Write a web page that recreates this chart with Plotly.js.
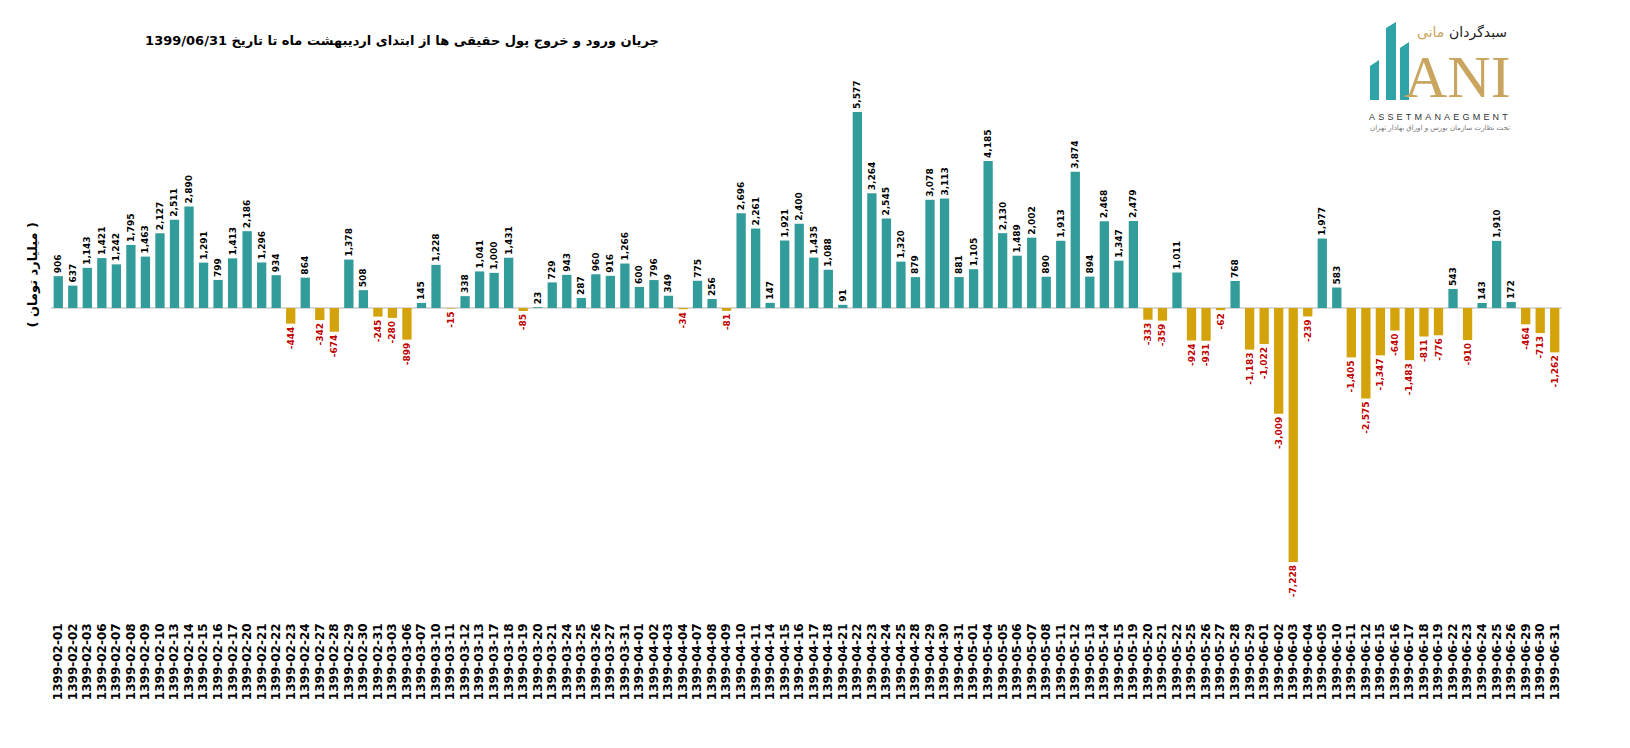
<!DOCTYPE html>
<html>
<head>
<meta charset="utf-8">
<script src="https://cdn.plot.ly/plotly-3.0.1.min.js"></script>
<style>
  body { margin: 0; background: #fff; }
  #graph { width: 1630px; height: 748px; }
</style>
</head>
<body>
<div id="graph"></div>
<script>
// net flow of individual investors' money, billion toman
let dates = [
    "1399-02-01", "1399-02-02", "1399-02-03", "1399-02-06", "1399-02-07", "1399-02-08", "1399-02-09", "1399-02-10",
    "1399-02-13", "1399-02-14", "1399-02-15", "1399-02-16", "1399-02-17", "1399-02-20", "1399-02-21", "1399-02-22",
    "1399-02-23", "1399-02-24", "1399-02-27", "1399-02-28", "1399-02-29", "1399-02-30", "1399-02-31", "1399-03-03",
    "1399-03-06", "1399-03-07", "1399-03-10", "1399-03-11", "1399-03-12", "1399-03-13", "1399-03-17", "1399-03-18",
    "1399-03-19", "1399-03-20", "1399-03-21", "1399-03-24", "1399-03-25", "1399-03-26", "1399-03-27", "1399-03-31",
    "1399-04-01", "1399-04-02", "1399-04-03", "1399-04-04", "1399-04-07", "1399-04-08", "1399-04-09", "1399-04-10",
    "1399-04-11", "1399-04-14", "1399-04-15", "1399-04-16", "1399-04-17", "1399-04-18", "1399-04-21", "1399-04-22",
    "1399-04-23", "1399-04-24", "1399-04-25", "1399-04-28", "1399-04-29", "1399-04-30", "1399-04-31", "1399-05-01",
    "1399-05-04", "1399-05-05", "1399-05-06", "1399-05-07", "1399-05-08", "1399-05-11", "1399-05-12", "1399-05-13",
    "1399-05-14", "1399-05-15", "1399-05-19", "1399-05-20", "1399-05-21", "1399-05-22", "1399-05-25", "1399-05-26",
    "1399-05-27", "1399-05-28", "1399-05-29", "1399-06-01", "1399-06-02", "1399-06-03", "1399-06-04", "1399-06-05",
    "1399-06-10", "1399-06-11", "1399-06-12", "1399-06-15", "1399-06-16", "1399-06-17", "1399-06-18", "1399-06-19",
    "1399-06-22", "1399-06-23", "1399-06-24", "1399-06-25", "1399-06-26", "1399-06-29", "1399-06-30", "1399-06-31"
];

let flows = [
    906, 637, 1143, 1421, 1242, 1795, 1463, 2127,
    2511, 2890, 1291, 799, 1413, 2186, 1296, 934,
    -444, 864, -342, -674, 1378, 508, -245, -280,
    -899, 145, 1228, -15, 338, 1041, 1000, 1431,
    -85, 23, 729, 943, 287, 960, 916, 1266,
    600, 796, 349, -34, 775, 256, -81, 2696,
    2261, 147, 1921, 2400, 1435, 1088, 91, 5577,
    3264, 2545, 1320, 879, 3078, 3113, 881, 1105,
    4185, 2130, 1489, 2002, 890, 1913, 3874, 894,
    2468, 1347, 2479, -333, -359, 1011, -924, -931,
    -62, 768, -1183, -1022, -3009, -7228, -239, 1977,
    583, -1405, -2575, -1347, -640, -1483, -811, -776,
    543, -910, 143, 1910, 172, -464, -713, -1262
];

let teal = "#319c99";
let gold = "#d4a20b";

// plot area in pixels, used to place the logo and side title
let L = 51, R = 68, T = 80, B = 128;
let W = 1630 - L - R, H = 748 - T - B;
function px(x) { return (x - L) / W; }
function py(y) { return (748 - B - y) / H; }

function plot() {
    let bars = {
        x: dates,
        y: flows,
        type: "bar",
        marker: {
            color: flows.map(v => v < 0 ? gold : teal)
        },
        texttemplate: "%{y:,}",
        textposition: "outside",
        textangle: -90,
        constraintext: "none",
        cliponaxis: false,
        textfont: {
            family: "DejaVu Sans",
            size: 9,
            weight: "bold",
            color: flows.map(v => v < 0 ? "#c00000" : "#000000")
        },
        hoverinfo: "x+y"
    };

    // logo: three slanted teal bars
    let bar1 = [1370, 1379, 66, 60], bar2 = [1386, 1396, 28, 22], bar3 = [1400, 1409, 48, 42];
    let logoShapes = [bar1, bar2, bar3].map(b => ({
        type: "path",
        xref: "paper", yref: "paper",
        path: "M " + px(b[0]) + " " + py(100) + " L " + px(b[0]) + " " + py(b[2]) +
              " L " + px(b[1]) + " " + py(b[3]) + " L " + px(b[1]) + " " + py(100) + " Z",
        fillcolor: "#2ea3a8",
        line: {width: 0}
    }));

    let layout = {
        width: 1630,
        height: 748,
        margin: {l: L, r: R, t: T, b: B},
        paper_bgcolor: "#ffffff",
        plot_bgcolor: "#ffffff",
        showlegend: false,
        bargap: 0.36,
        title: {
            text: "<b>جریان ورود و خروج پول حقیقی ها از ابتدای اردیبهشت ماه تا تاریخ 1399/06/31</b>",
            font: {family: "DejaVu Sans", size: 13, color: "#000000"},
            xref: "container", yref: "container",
            x: 402 / 1630, xanchor: "center",
            y: 1 - 40 / 748, yanchor: "middle"
        },
        xaxis: {
            type: "category",
            tickangle: -90,
            tickfont: {family: "DejaVu Sans", size: 12, weight: "bold", color: "#000000"},
            showline: false,
            showgrid: false,
            ticks: "",
            automargin: false
        },
        yaxis: {
            range: [-8876, 6487],
            showticklabels: false,
            showgrid: false,
            zeroline: true,
            zerolinecolor: "#d9d9d9",
            zerolinewidth: 1.5,
            fixedrange: true
        },
        shapes: logoShapes,
        annotations: [
            {
                text: "<b>( میلیارد تومان )</b>",
                xref: "paper", yref: "paper",
                x: px(22), y: py(275),
                textangle: -90,
                showarrow: false,
                font: {family: "DejaVu Sans", size: 13, color: "#000000"}
            },
            {
                text: "ANI",
                xref: "paper", yref: "paper",
                x: px(1457), y: py(112),
                xanchor: "center", yanchor: "bottom",
                showarrow: false,
                font: {family: "Liberation Serif", size: 60, color: "#c9a560"}
            },
            {
                text: "<span style=\"letter-spacing:3.2px\">ASSETMANAEGMENT</span>",
                xref: "paper", yref: "paper",
                x: px(1440), y: py(117),
                xanchor: "center", yanchor: "middle",
                showarrow: false,
                font: {family: "Liberation Sans", size: 9, color: "#333333"}
            },
            {
                text: "تحت نظارت سازمان بورس و اوراق بهادار تهران",
                xref: "paper", yref: "paper",
                x: px(1440), y: py(128),
                xanchor: "center", yanchor: "middle",
                showarrow: false,
                font: {family: "DejaVu Sans", size: 7, color: "#777777"}
            },
            {
                text: "سبدگردان",
                xref: "paper", yref: "paper",
                x: px(1509), y: py(32),
                xanchor: "right", yanchor: "middle",
                showarrow: false,
                font: {family: "DejaVu Sans", size: 14, color: "#222222"}
            },
            {
                text: "مانی",
                xref: "paper", yref: "paper",
                x: px(1446), y: py(32),
                xanchor: "right", yanchor: "middle",
                showarrow: false,
                font: {family: "DejaVu Sans", size: 14, color: "#c9a560"}
            }
        ]
    };

    Plotly.newPlot("graph", [bars], layout, {displayModeBar: false, staticPlot: true});
}

plot();
</script>
</body>
</html>
